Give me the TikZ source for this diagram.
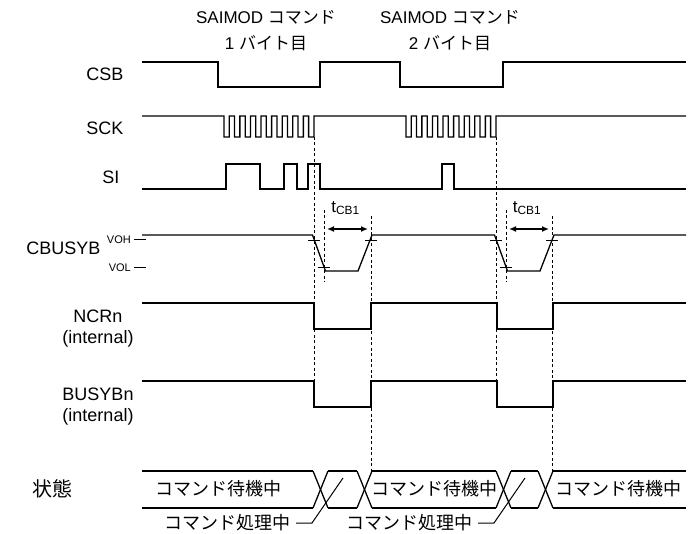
\documentclass[tikz,border=0pt]{standalone}
\usepackage{fontspec}
\setmainfont{Liberation Sans}
\newfontfamily\jp{Noto Sans CJK JP}
\usetikzlibrary{arrows.meta}

\begin{document}
\begin{tikzpicture}[x=1pt,y=-1pt,>={Latex[length=7pt,width=6pt]},
  sig/.style={line width=1.3pt},
  guide/.style={line width=0.7pt,dash pattern=on 3pt off 2.5pt},
  signame/.style={font=\fontsize{18}{21}\selectfont,align=center},
  level/.style={font=\fontsize{11}{12}\selectfont,anchor=east,inner sep=1pt},
  jptext/.style={font=\jp\fontsize{18}{20}\selectfont,inner sep=1pt}]
  \useasboundingbox (0,0) rectangle (699,534);

  % header
  \node[signame,font=\fontsize{17}{26}\selectfont] (byte1) at (266,31) {SAIMOD {\jp コマンド}\\1 {\jp バイト目}};
  \node[signame,font=\fontsize{17}{26}\selectfont] (byte2) at (450,31) {SAIMOD {\jp コマンド}\\2 {\jp バイト目}};

  % signal names
  \node[signame,anchor=east] (csb) at (127,74) {CSB};
  \node[signame,anchor=east] (sck) at (127,128) {SCK};
  \node[signame,anchor=east] (si) at (123,177) {SI};
  \node[signame,anchor=east] (cbusyb) at (104,248) {CBUSYB};
  \node[level] (voh) at (132,240) {VOH};
  \node[level] (vol) at (132,268) {VOL};
  \node[signame] (ncrn) at (98,329) {NCRn\\(internal)};
  \node[signame] (busybn) at (98,407) {BUSYBn\\(internal)};
  \node[jptext,font=\jp\fontsize{20}{22}\selectfont] (state) at (52,489) {状態};

  % CSB
  \draw[sig] (142,62) -- (218,62) -- (218,87) -- (320,87) -- (320,62) -- (400,62)
    -- (400,87) -- (503,87) -- (503,62) -- (686,62);
  % SCK
  \draw[sig] (142,116) -- (224,116) -- (224,137)
    \foreach \k in {1,...,8}{ -- ++(5.29,0) -- ++(0,-21) -- ++(5.29,0) -- ++(0,21)}
    -- ++(5.29,0) -- (314,116) -- (406,116) -- (406,137)
    \foreach \k in {1,...,8}{ -- ++(5.29,0) -- ++(0,-21) -- ++(5.29,0) -- ++(0,21)}
    -- ++(5.29,0) -- (496,116) -- (686,116);
  % SI
  \draw[sig] (142,189) -- (226,189) -- (226,164) -- (260,164) -- (260,189) -- (284,189)
    -- (284,164) -- (297,164) -- (297,189) -- (308,189) -- (308,164) -- (320,164)
    -- (320,189) -- (442,189) -- (442,164) -- (454,164) -- (454,189) -- (686,189);
  % CBUSYB
  \draw[sig] (142,235) -- (312.5,235) -- (325.5,271) -- (358,271) -- (372,235)
    -- (494.5,235) -- (507.5,271) -- (540,271) -- (554,235) -- (686,235);
  \draw[line width=1pt] ([xshift=2pt]voh.east) -- ++(12,0);
  \draw[line width=1pt] ([xshift=2pt]vol.east) -- ++(12,0);
  \foreach \x/\y in {314/240,324/267,371/240,496/240,506/267,552/240}
    \draw[line width=0.9pt] (\x-6,\y) -- (\x+6,\y);
  % NCRn, BUSYBn
  \draw[sig] (142,303) -- (314,303) -- (314,329) -- (371,329) -- (371,303) -- (497,303)
    -- (497,329) -- (553,329) -- (553,303) -- (686,303);
  \draw[sig] (142,381) -- (314,381) -- (314,407) -- (371,407) -- (371,381) -- (497,381)
    -- (497,407) -- (553,407) -- (553,381) -- (686,381);

  % guides
  \foreach \x in {314,496} \draw[guide] (\x,137) -- (\x,407);
  \foreach \x in {324,506} \draw[guide] (\x,210) -- (\x,282);
  \foreach \x in {371,552} \draw[guide] (\x,216) -- (\x,471);

  % tCB1
  \foreach \a/\b in {324/371,506/552}{
    \node[font=\fontsize{17}{19}\selectfont] (tcb\a) at ({(\a+\b)/2-2},208) {t\textsubscript{CB1}};
    \draw[<->,line width=1.6pt] (\a+3,229) -- (\b-3,229);
  }

  % state
  \foreach \l/\r in {142/313,328/357,372/496,511/538,553/686}{
    \draw[sig] (\l,471) -- (\r,471);
    \draw[sig] (\l,508) -- (\r,508);
  }
  \foreach \l/\r in {313/328,357/372,496/511,538/553}{
    \draw[sig] (\l,471) -- (\r,508);
    \draw[sig] (\l,508) -- (\r,471);
  }
  \node[jptext] (wait1) at (218,489) {コマンド待機中};
  \node[jptext] (wait2) at (434,489) {コマンド待機中};
  \node[jptext] (wait3) at (618,489) {コマンド待機中};
  \coordinate (proc1) at (343,478);
  \coordinate (proc2) at (525,478);
  \node[jptext,anchor=east] (lbl1) at (292,523) {コマンド処理中};
  \node[jptext,anchor=east] (lbl2) at (474,523) {コマンド処理中};
  \draw[line width=1pt] ([xshift=4pt]lbl1.east) -- ++(16,0) -- (proc1);
  \draw[line width=1pt] ([xshift=4pt]lbl2.east) -- ++(16,0) -- (proc2);
\end{tikzpicture}
\end{document}
